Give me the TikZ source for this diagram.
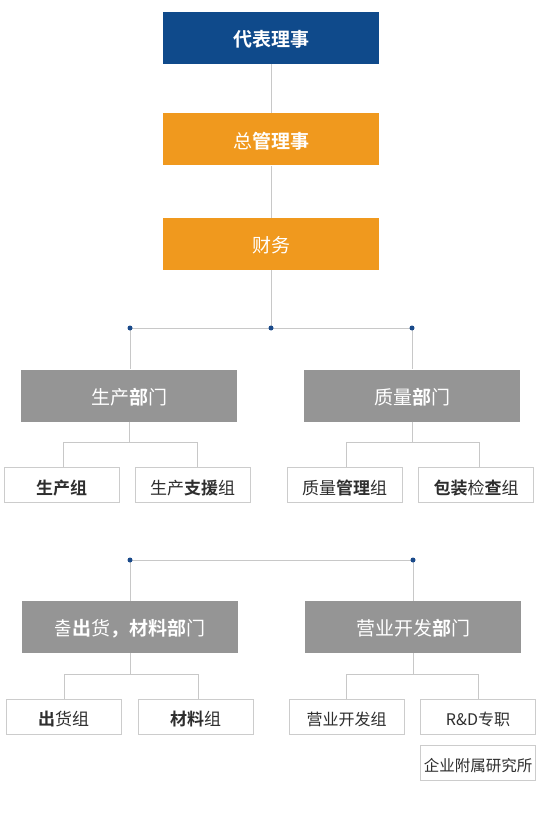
\documentclass[tikz,border=0pt]{standalone}
\usepackage{fontspec}
\setmainfont{Noto Sans CJK SC}[BoldFont={Noto Sans CJK SC Bold}]
\definecolor{topblue}{HTML}{0F4A8B}
\definecolor{orng}{HTML}{F0991E}
\definecolor{grybox}{HTML}{959595}
\definecolor{lnc}{HTML}{C8C8C8}
\definecolor{bdc}{HTML}{CCCCCC}
\definecolor{txt}{HTML}{2E2E2E}
\definecolor{dotc}{HTML}{1A4A8A}
\newcommand{\B}[1]{{\bfseries #1}}
\begin{document}
\begin{tikzpicture}[x=1pt,y=-1pt,
  bigbox/.style={minimum width=216pt,minimum height=52pt,inner sep=0pt,text=white,font=\fontsize{19}{21}\selectfont,text height=19.5pt,text depth=2pt},
  bluebox/.style={bigbox,fill=topblue},
  orbox/.style={bigbox,fill=orng},
  grbox/.style={bigbox,fill=grybox},
  smbox/.style={minimum width=115pt,minimum height=35pt,inner sep=0pt,draw=bdc,line width=1pt,fill=white,text=txt,font=\fontsize{17}{19}\selectfont,text height=20.5pt,text depth=1.7pt},
  conn/.style={draw=lnc,line width=1pt},
  jdot/.style={circle,fill=dotc,inner sep=0pt,minimum size=5pt}
]
\useasboundingbox (0,0) rectangle (540,818);
% top chain
\node[bluebox] (A) at (271,38) {\B{代表理事}};
\node[orbox] (Bm) at (271,139.5) {总\B{管理事}};
\node[orbox] (C) at (271,244) {财务};
% first level junctions
\coordinate (j0) at (271,328);
\coordinate (j1) at (130,328);
\coordinate (j2) at (412,328);
% group 1 departments
\node[grbox] (D) at (129,395.5) {生产\B{部}门};
\node[grbox] (E) at (412,395.5) {质量\B{部}门};
% group 1 sub boxes
\node[smbox] (D1) at (61.5,485) {\B{生产组}};
\node[smbox] (D2) at (192.5,485) {生产\B{支援}组};
\node[smbox] (E1) at (344.5,485) {质量\B{管理}组};
\node[smbox] (E2) at (476,485) {\B{包装}检\B{查}组};
% group 2
\coordinate (k1) at (130,560);
\coordinate (k2) at (413,560);
\node[grbox] (F) at (130,627) {출\B{出}货\B{，材料部}门};
\node[grbox] (G) at (413,627) {营业开发\B{部}门};
\node[smbox] (F1) at (63.5,716.5) {\B{出}货组};
\node[smbox] (F2) at (195.5,716.5) {\B{材料}组};
\node[smbox,font=\fontsize{16}{18}\selectfont] (G1) at (346.5,716.5) {营业开发组};
\node[smbox,font=\fontsize{16}{18}\selectfont] (G2) at (478,716.5) {R\&D专职};
\node[smbox,font=\fontsize{15.5}{18}\selectfont] (G3) at (478,762.5) {企业附属研究所};
% branch coordinates
\coordinate (dj) at (129,442);
\coordinate (da) at (63,442);
\coordinate (db) at (197,442);
\coordinate (ej) at (412,442);
\coordinate (ea) at (346.5,442);
\coordinate (eb) at (479.5,442);
\coordinate (fj) at (130,674);
\coordinate (fa) at (64.5,674);
\coordinate (fb) at (198,674);
\coordinate (gj) at (413,674);
\coordinate (ga) at (346,674);
\coordinate (gb) at (478,674);
% connectors
\path[conn] (A.south) -- (Bm.north);
\path[conn] (Bm.south) -- (C.north);
\path[conn] (C.south) -- (j0);
\path[conn] (j1) -- (j2);
\path[conn] (j1) -- (j1 |- D.north);
\path[conn] (j2) -- (j2 |- E.north);
\path[conn] (D.south -| dj) -- (dj);
\path[conn] (da) -- (db);
\path[conn] (da) -- (da |- D1.north);
\path[conn] (db) -- (db |- D2.north);
\path[conn] (E.south -| ej) -- (ej);
\path[conn] (ea) -- (eb);
\path[conn] (ea) -- (ea |- E1.north);
\path[conn] (eb) -- (eb |- E2.north);
\path[conn] (k1) -- (k2);
\path[conn] (k1) -- (k1 |- F.north);
\path[conn] (k2) -- (k2 |- G.north);
\path[conn] (F.south -| fj) -- (fj);
\path[conn] (fa) -- (fb);
\path[conn] (fa) -- (fa |- F1.north);
\path[conn] (fb) -- (fb |- F2.north);
\path[conn] (G.south -| gj) -- (gj);
\path[conn] (ga) -- (gb);
\path[conn] (ga) -- (ga |- G1.north);
\path[conn] (gb) -- (gb |- G2.north);
\node[jdot] (d0) at (j0) {};
\node[jdot] (d1) at (j1) {};
\node[jdot] (d2) at (j2) {};
\node[jdot] (d3) at (k1) {};
\node[jdot] (d4) at (k2) {};
\end{tikzpicture}
\end{document}
